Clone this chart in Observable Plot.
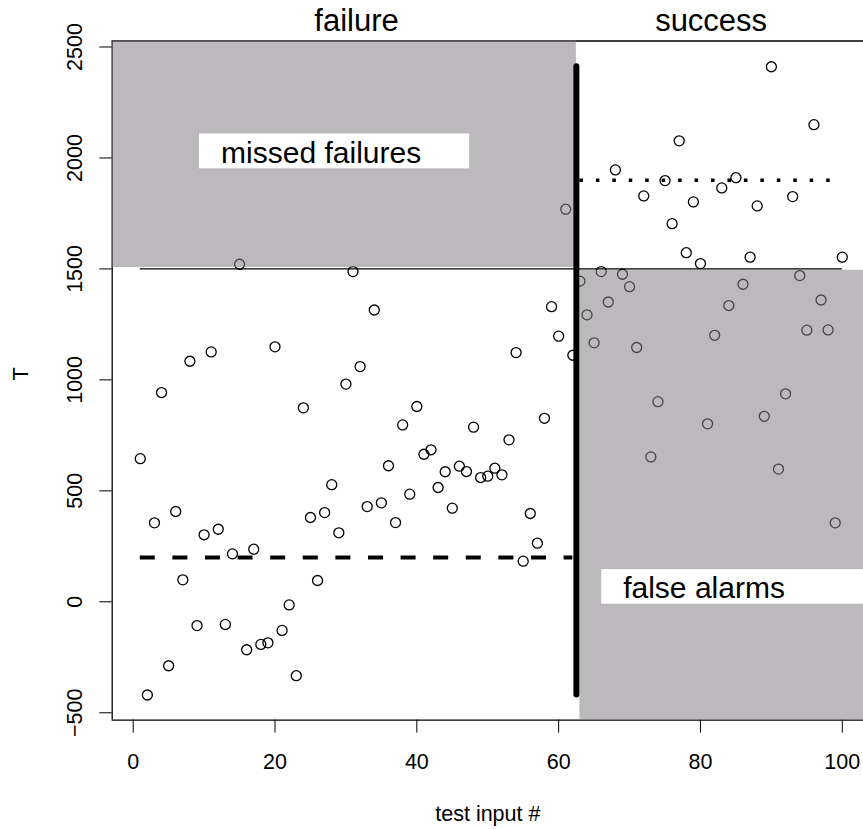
<!DOCTYPE html>
<html>
<head>
<meta charset="utf-8">
<script src="https://cdn.jsdelivr.net/npm/d3@7"></script>
<script src="https://cdn.jsdelivr.net/npm/@observablehq/plot@0.6"></script>
<style>
  html, body { margin: 0; padding: 0; background: white; }
</style>
</head>
<body>
<div id="chart"></div>
<script>
// ---- data ----
const T = [
  645, -420, 356, 943, -288, 407, 99, 1084, -107, 302,
  1126, 327, -102, 216, 1521, -216, 237, -192, -185, 1149,
  -129, -14, -333, 874, 380, 96, 402, 528, 311, 981,
  1488, 1060, 429, 1315, 446, 613, 357, 797, 485, 880,
  665, 685, 515, 586, 422, 611, 587, 787, 560, 566,
  602, 572, 730, 1123, 183, 398, 264, 827, 1330, 1197,
  1769, 1111, 1445, 1293, 1167, 1488, 1351, 1946, 1476, 1420,
  1146, 1829, 653, 902, 1898, 1704, 2077, 1573, 1802, 1524,
  802, 1201, 1865, 1335, 1911, 1431, 1553, 1784, 836, 2411,
  598, 937, 1826, 1470, 1224, 2150, 1360, 1225, 356, 1553
];
const xTicks = [0, 20, 40, 60, 80, 100];
const yTicks = [-500, 0, 500, 1000, 1500, 2000, 2500];
const xDomain = [-2.96, 102.99];
const yDomain = [-533, 2527];

const splitX = [62.5, 63];            // failure / success split
const thresholdT = 1500;              // horizontal threshold
const failMean = 200;                 // dashed line level (failures)
const successMean = 1900;             // dotted line level (successes)
const failRange = [1, 62];
const successRange = [63, 100];
const thresholdRange = [1, 100];

const titles = ["failure", "success"];
const titleX = [31.5, 81.5];

const boxLabels = ["missed failures", "false alarms"];
const boxX1 = [9.35, 66.07];
const boxX2 = [47.45, 102.99];
const boxY1 = [1951, -11];
const boxY2 = [2108, 145];
const labelX = [12.4, 69.1];
const labelY = [2021, 62];

// ---- tables built from the arrays ----
const points = T.map((t, i) => ({x: i + 1, t}));
const regions = [
  {x1: xDomain[0], x2: splitX[0], y1: 1506, y2: yDomain[1]},
  {x1: splitX[1], x2: xDomain[1], y1: yDomain[0], y2: 1494}
];
const boxes = boxLabels.map((label, i) => ({
  label, x1: boxX1[i], x2: boxX2[i], y1: boxY1[i], y2: boxY2[i], lx: labelX[i], ly: labelY[i]
}));
const titleData = titles.map((t, i) => ({t, x: titleX[i]}));

const font = "'Liberation Sans', Arial, Helvetica, sans-serif";
const plainNum = d => (d < 0 ? "\u2212" + Math.abs(d) : String(d));

const chart = Plot.plot({
  width: 863,
  height: 829,
  marginLeft: 111.7,
  marginRight: 0,
  marginTop: 40.5,
  marginBottom: 109.4,
  x: {domain: xDomain},
  y: {domain: yDomain},
  style: {fontFamily: font, fontSize: "21.5px", background: "white", color: "black"},
  marks: [
    // box (left, bottom, top)
    Plot.ruleX([xDomain[0]], {stroke: "black", strokeWidth: 1.3}),
    Plot.ruleY([yDomain[0], yDomain[1]], {stroke: "black", strokeWidth: 1.3}),
    // axes
    Plot.axisX({ticks: xTicks, tickSize: 13, tickPadding: 20.5, label: null, fontSize: 21.5, tickFormat: plainNum}),
    Plot.axisY({ticks: yTicks, tickSize: 12.4, tickPadding: 17.6, tickRotate: -90, label: null, fontSize: 21.5, tickFormat: plainNum}),
    // points
    Plot.dot(points, {x: "x", y: "t", r: 5, stroke: "black", strokeWidth: 1.3, fill: "none"}),
    // translucent grey regions
    Plot.rect(regions, {x1: "x1", x2: "x2", y1: "y1", y2: "y2", fill: "rgb(129,126,129)", fillOpacity: 0.54}),
    // threshold line
    Plot.ruleY([thresholdT], {x1: thresholdRange[0], x2: thresholdRange[1], stroke: "black", strokeWidth: 1.3}),
    // dashed mean for failures
    Plot.ruleY([failMean], {x1: failRange[0], x2: failRange[1], stroke: "black", strokeWidth: 4, strokeDasharray: "15,17.6"}),
    // dotted mean for successes
    Plot.ruleY([successMean], {x1: successRange[0], x2: successRange[1], stroke: "black", strokeWidth: 3.5, strokeDasharray: "3.5,12.95"}),
    // thick split line spanning the data range
    Plot.ruleX([splitX[0]], {y1: d3.min(T), y2: d3.max(T), stroke: "black", strokeWidth: 6, strokeLinecap: "round"}),
    // label boxes
    Plot.rect(boxes, {x1: "x1", x2: "x2", y1: "y1", y2: "y2", fill: "white"}),
    Plot.text(boxes, {x: "lx", y: "ly", text: "label", textAnchor: "start", lineAnchor: "middle", fontSize: 30, fill: "black"}),
    // titles above
    Plot.text(titleData, {x: "x", text: "t", frameAnchor: "top", lineAnchor: "bottom", dy: -10, fontSize: 31, fill: "black"}),
    // axis titles
    Plot.text(["test input #"], {frameAnchor: "bottom", lineAnchor: "bottom", dy: 101, fontSize: 21.5, fill: "black"}),
    Plot.text(["T"], {frameAnchor: "left", lineAnchor: "bottom", rotate: -90, dx: -84.4, fontSize: 21.5, fill: "black"})
  ]
});
document.getElementById("chart").appendChild(chart);
</script>
</body>
</html>
